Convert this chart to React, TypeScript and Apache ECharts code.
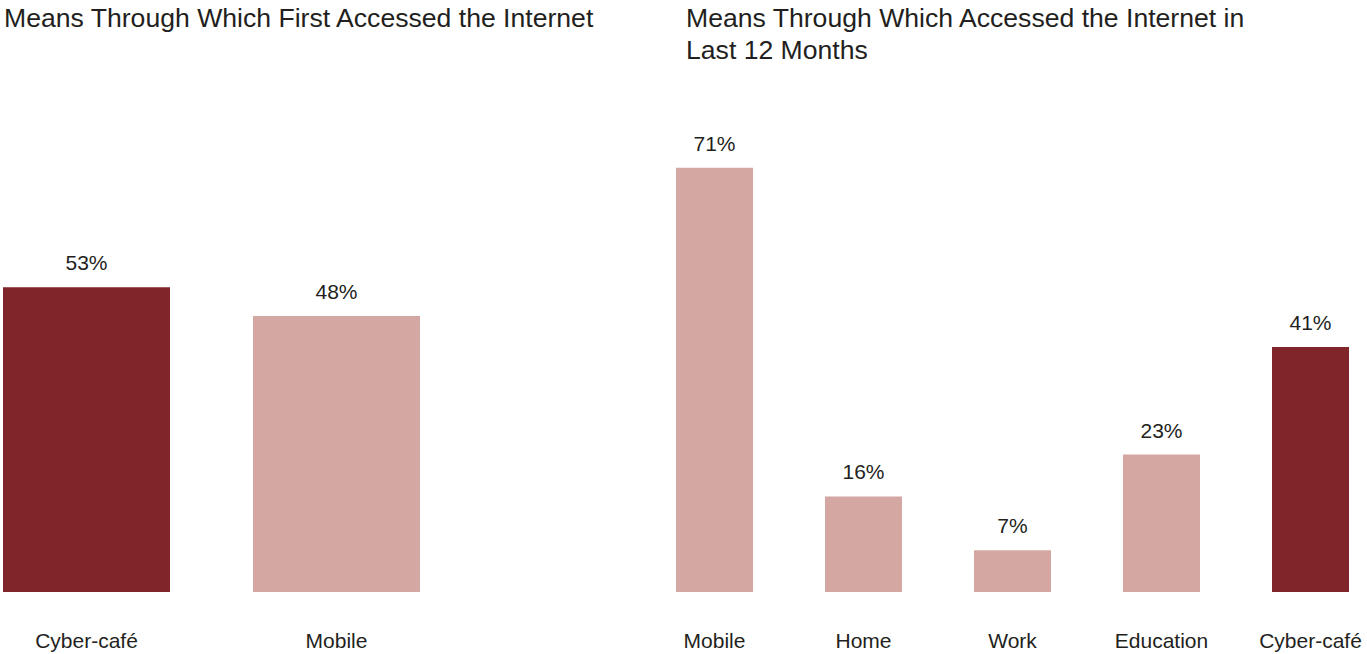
import React, { useEffect, useRef } from "react";
import * as echarts from "echarts";

const firstCategories = ["Cyber-café", "Mobile"];
const firstValues = [53, 48];
const lastCategories = ["Mobile", "Home", "Work", "Education", "Cyber-café"];
const lastValues = [71, 16, 7, 23, 41];
const highlightCategory = "Cyber-café";

const titleFirst = "Means Through Which First Accessed the Internet";
const titleLast = "Means Through Which Accessed the Internet in\nLast 12 Months";

const DARK = "#80252a";
const PINK = "#d4a7a2";
const TEXT = "#231f20";
const FONT = "'Liberation Sans', Arial, Helvetica, sans-serif";

export default function App() {
  const ref = useRef<HTMLDivElement>(null);
  useEffect(() => {
    if (!ref.current) return;
    const chart = echarts.init(ref.current, undefined, { renderer: "svg" });
    const colorFor = (cats: string[]) => (p: any) =>
      cats[p.dataIndex] === highlightCategory ? DARK : PINK;
    const labelCfg = {
      show: true,
      position: "top",
      distance: 14,
      color: TEXT,
      fontSize: 21,
      fontFamily: FONT,
      formatter: (p: any) => p.value + "%",
    };
    const xAxisBase = {
      type: "category",
      axisLine: { show: false },
      axisTick: { show: false },
      axisLabel: { color: TEXT, fontSize: 21, fontFamily: FONT, margin: 38, interval: 0 },
    };
    const yAxisBase = {
      type: "value",
      min: 0,
      show: false,
      splitLine: { show: false },
    };
    const titleStyle = {
      fontSize: 26.6,
      fontWeight: "normal",
      color: TEXT,
      fontFamily: FONT,
      lineHeight: 32,
    };
    chart.setOption({
      animation: false,
      backgroundColor: "#ffffff",
      textStyle: { fontFamily: FONT },
      title: [
        { text: titleFirst, left: 4, top: 2, padding: 0, textStyle: titleStyle },
        { text: titleLast, left: 686, top: 2, padding: 0, textStyle: titleStyle },
      ],
      grid: [
        { left: -38.5, width: 500, top: 132, height: 460, outerBoundsMode: "none", containLabel: false },
        { left: 640, width: 745, top: 114, height: 478, outerBoundsMode: "none", containLabel: false },
      ],
      xAxis: [
        { ...xAxisBase, gridIndex: 0, data: firstCategories },
        { ...xAxisBase, gridIndex: 1, data: lastCategories },
      ],
      yAxis: [
        { ...yAxisBase, gridIndex: 0, max: 80 },
        { ...yAxisBase, gridIndex: 1, max: 80 },
      ],
      series: [
        {
          type: "bar",
          xAxisIndex: 0,
          yAxisIndex: 0,
          data: firstValues,
          barWidth: 167,
          itemStyle: { color: colorFor(firstCategories) },
          label: labelCfg,
        },
        {
          type: "bar",
          xAxisIndex: 1,
          yAxisIndex: 1,
          data: lastValues,
          barWidth: 77,
          itemStyle: { color: colorFor(lastCategories) },
          label: labelCfg,
        },
      ],
    });
    return () => chart.dispose();
  }, []);
  return (
    <div
      ref={ref}
      style={{ position: "absolute", left: 0, top: 0, width: 1367, height: 654 }}
    />
  );
}
